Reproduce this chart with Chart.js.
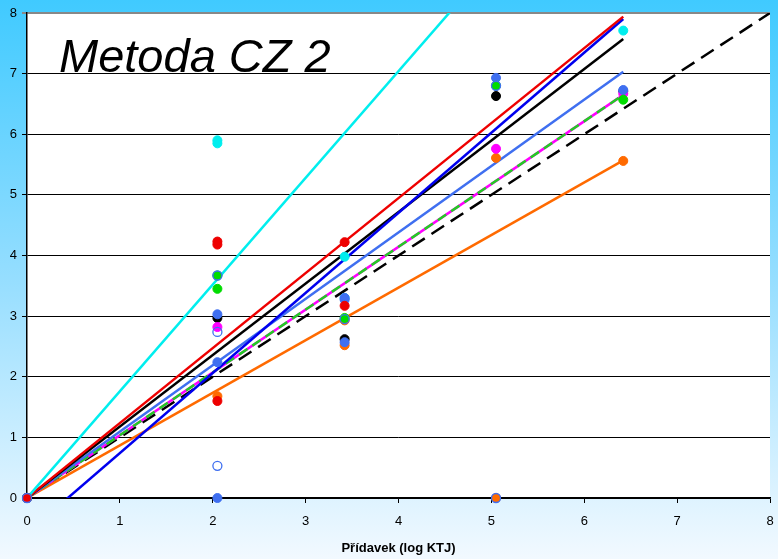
<!DOCTYPE html>
<html>
<head>
<meta charset="utf-8">
<script src="https://cdn.jsdelivr.net/npm/chart.js@4/dist/chart.umd.min.js"></script>
<style>
  html, body { margin: 0; padding: 0; }
  #wrap { width: 778px; height: 559px; }
</style>
</head>
<body>
<div id="wrap"><canvas id="c" width="778" height="559"></canvas></div>
<script>
// Measured points per laboratory: [log KTJ added, log KTJ found]
const cyanPts    = [[0,0],[2.05,5.90],[2.05,5.85],[3.42,3.30],[3.42,3.98],[6.42,7.71]];
const redPts     = [[0,0],[2.05,4.23],[2.05,4.18],[2.05,1.60],[3.42,4.22],[3.42,3.17]];
const greenPts   = [[0,0],[2.05,3.67],[2.05,3.45],[3.42,2.97],[5.05,6.80],[6.42,6.57]];
const navyPts    = [[0,0],[6.42,6.71]];
const royalPts   = [[0,0],[2.05,3.03],[2.05,2.24],[2.05,0],[3.42,3.30],[3.42,3.27],[3.42,2.57],[5.05,6.93],[6.42,6.73]];
const blackPts   = [[0,0],[2.05,2.97],[3.42,2.62],[5.05,6.63]];
const magentaPts = [[0,0],[2.05,2.82],[5.05,5.76],[6.42,6.67]];
const orangePts  = [[0,0],[2.05,1.68],[3.42,2.93],[3.42,2.52],[5.05,5.61],[5.05,0],[6.42,5.56]];
const openPts    = [[0,0],[2.05,3.67],[2.05,2.74],[2.05,0.53],[3.42,2.95],[5.05,6.80],[5.05,0]];

// Regression lines: values at the two ends of the fitted range
const fitX       = [0, 6.42];
const cyanFit    = [0, 11.30];
const redFit     = [0, 7.94];
const navyFit    = [-0.58, 7.90];
const blackFit   = [0, 7.57];
const royalFit   = [0, 7.03];
const magentaFit = [0, 6.65];
const greenFit   = [0, 6.65];
const orangeFit  = [0, 5.57];
// Reference line y = x
const idealX     = [0, 8];
const idealY     = [0, 8];

const xTicks = [0,1,2,3,4,5,6,7,8];
const yTicks = [0,1,2,3,4,5,6,7,8];

const toXY = arr => arr.map(p => ({x: p[0], y: p[1]}));
const fitXY = (xs, ys) => xs.map((x, i) => ({x, y: ys[i]}));

function lineSet(xs, ys, color, dash, order) {
  return { data: fitXY(xs, ys), showLine: true, borderColor: color, borderWidth: 2.5,
           borderDash: dash || [], pointRadius: 0, fill: false, order: order };
}
function pointSet(pts, color, order) {
  return { data: toXY(pts), showLine: false, backgroundColor: color, borderColor: color,
           pointRadius: 4.5, pointBorderWidth: 1, order: order, clip: false };
}

const datasets = [
  lineSet(idealX, idealY, '#000000', [15, 8], 20),
  lineSet(fitX, orangeFit, '#FF6A00', null, 19),
  lineSet(fitX, magentaFit, '#FF00FF', null, 18),
  lineSet(fitX, greenFit, '#22CC22', [10, 6], 17),
  lineSet(fitX, royalFit, '#3F6FF0', null, 16),
  lineSet(fitX, blackFit, '#000000', null, 15),
  lineSet(fitX, navyFit, '#0000EE', null, 14),
  lineSet(fitX, redFit, '#EE0000', null, 13),
  lineSet(fitX, cyanFit, '#00EEEE', null, 12),
  pointSet(cyanPts, '#00EEEE', 10),
  pointSet(orangePts, '#FF6A00', 9),
  pointSet(navyPts, '#1A1A80', 8),
  pointSet(blackPts, '#000000', 7),
  pointSet(magentaPts, '#FF00FF', 6),
  pointSet(royalPts, '#3F6FF0', 5),
  pointSet(greenPts, '#00DD00', 4),
  pointSet(redPts, '#EE0000', 3),
  { data: toXY(openPts), showLine: false, backgroundColor: 'rgba(255,255,255,0)',
    borderColor: '#3F6FF0', pointRadius: 4.5, pointBorderWidth: 1.3, order: 2, clip: false }
];

const bgPlugin = {
  id: 'bg',
  beforeDraw(chart) {
    const { ctx, width, height, chartArea: a } = chart;
    ctx.save();
    const g = ctx.createLinearGradient(0, 0, 0, height);
    g.addColorStop(0, 'rgb(64,202,255)');
    g.addColorStop(0.5, 'rgb(150,222,255)');
    g.addColorStop(1, 'rgb(242,249,255)');
    ctx.fillStyle = g;
    ctx.fillRect(0, 0, width, height);
    ctx.fillStyle = '#ffffff';
    ctx.fillRect(a.left, a.top, a.right - a.left, a.bottom - a.top);
    ctx.restore();
  }
};

const labelPlugin = {
  id: 'label',
  afterDatasetsDraw(chart) {
    const { ctx, chartArea: a } = chart;
    ctx.save();
    ctx.fillStyle = '#000';
    ctx.font = 'italic 47px "Liberation Sans", Arial, sans-serif';
    ctx.textBaseline = 'alphabetic';
    ctx.textAlign = 'left';
    ctx.fillText('Metoda CZ 2', a.left + 32, a.top + 59);
    ctx.restore();
  }
};

Chart.defaults.font.family = '"Liberation Sans", Arial, sans-serif';

new Chart(document.getElementById('c'), {
  type: 'scatter',
  data: { datasets },
  plugins: [bgPlugin, labelPlugin],
  options: {
    responsive: false,
    animation: false,
    devicePixelRatio: 1,
    layout: { padding: { top: 13, right: 8, left: 0, bottom: 0 } },
    plugins: { legend: { display: false }, tooltip: { enabled: false } },
    scales: {
      x: {
        type: 'linear', min: 0, max: 8,
        afterBuildTicks(s) { s.ticks = xTicks.map(v => ({ value: v })); },
        afterFit(s) { s.height = 61; s.paddingLeft = 0; s.paddingRight = 0; },
        ticks: { color: '#000', font: { size: 13 }, padding: 11 },
        grid: { drawOnChartArea: false, drawTicks: true, tickLength: 5, color: '#000' },
        border: { color: '#000', width: 1.5 },
        title: { display: true, text: 'Přídavek (log KTJ)', color: '#000',
                 font: { size: 13, weight: 'bold' }, padding: { top: 4, bottom: 3 } }
      },
      y: {
        type: 'linear', min: 0, max: 8,
        afterBuildTicks(s) { s.ticks = yTicks.map(v => ({ value: v })); },
        afterFit(s) { s.width = 27; s.paddingTop = 0; s.paddingBottom = 0; },
        ticks: { color: '#000', font: { size: 13 }, padding: 5 },
        grid: { color: ctx => (ctx.tick && ctx.tick.value === 8) ? '#888' : '#000',
                lineWidth: ctx => (ctx.tick && ctx.tick.value === 8) ? 2 : 1,
                tickLength: 5, drawTicks: true },
        border: { color: '#000', width: 1.5 }
      }
    }
  }
});
</script>
</body>
</html>
